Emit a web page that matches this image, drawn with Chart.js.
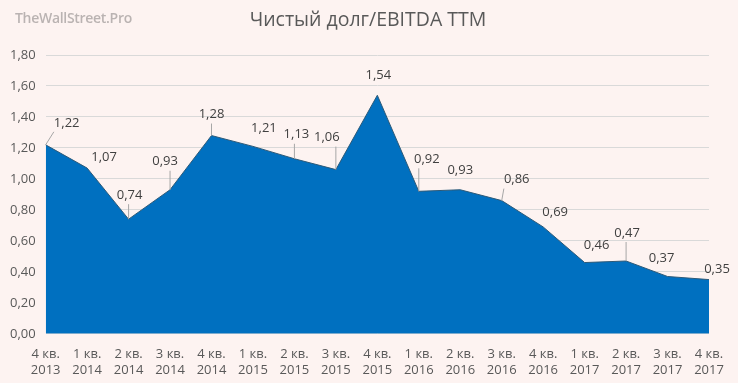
<!DOCTYPE html>
<html><head><meta charset="utf-8">
<script src="https://cdn.jsdelivr.net/npm/chart.js@4"></script>
<style>
html,body{margin:0;padding:0;background:#FDF3F1;}
#wrap{position:relative;width:738px;height:383px;}
#wm{position:absolute;left:15px;top:8px;font:600 14px "Open Sans",sans-serif;color:#BAB3B2;letter-spacing:-0.3px;}
</style></head><body>
<div id="wrap"><canvas id="c" width="738" height="383"></canvas><div id="wm">TheWallStreet.Pro</div></div>
<script>
const quarters = ['4 кв.','1 кв.','2 кв.','3 кв.','4 кв.','1 кв.','2 кв.','3 кв.','4 кв.','1 кв.','2 кв.','3 кв.','4 кв.','1 кв.','2 кв.','3 кв.','4 кв.'];
const years = ['2013','2014','2014','2014','2014','2015','2015','2015','2015','2016','2016','2016','2016','2017','2017','2017','2017'];
const ratio = [1.22,1.07,0.74,0.93,1.28,1.21,1.13,1.06,1.54,0.92,0.93,0.86,0.69,0.46,0.47,0.37,0.35];
const yTicks = [0,0.2,0.4,0.6,0.8,1.0,1.2,1.4,1.6,1.8];
const chartTitle = 'Чистый долг/EBITDA TTM';

const FONT = '"Open Sans", "Noto Sans", sans-serif';
const fmt = v => v.toFixed(2).replace('.', ',');

const titlePlugin = {
  id: 'ctitle',
  afterDraw(chart) {
    const ctx = chart.ctx;
    ctx.save();
    ctx.font = '19.5px ' + FONT;
    ctx.fillStyle = '#595959';
    ctx.textAlign = 'center';
    ctx.textBaseline = 'middle';
    ctx.fillText(chartTitle, 368, 20);
    ctx.restore();
  }
};

const labelPlugin = {
  id: 'dlabels',
  afterDatasetsDraw(chart, args, opts) {
    const ctx = chart.ctx;
    const meta = chart.getDatasetMeta(0);
    ctx.save();
    ctx.font = '13px ' + FONT;
    ctx.textAlign = 'center';
    ctx.textBaseline = 'middle';
    meta.data.forEach((pt, i) => {
      const nudge = opts.nudges[i];
      const lx = pt.x + nudge[0], ly = pt.y + nudge[1];
      const txt = fmt(ratio[i]);
      const w = ctx.measureText(txt).width;
      const bottom = ly + 8;
      const ex = Math.max(lx - w/2, Math.min(lx + w/2, pt.x));
      const dist = Math.hypot(ex - pt.x, bottom - pt.y);
      if (dist > 12) {
        ctx.strokeStyle = '#A6A6A6';
        ctx.lineWidth = 1;
        ctx.beginPath();
        ctx.moveTo(pt.x, pt.y);
        ctx.lineTo(ex, bottom + 1);
        ctx.stroke();
      }
      ctx.fillStyle = '#404040';
      ctx.fillText(txt, lx, ly);
    });
    ctx.restore();
  }
};

new Chart(document.getElementById('c'), {
  type: 'line',
  data: {
    labels: quarters.map((q, i) => [q, years[i]]),
    datasets: [{
      data: ratio,
      fill: 'origin',
      backgroundColor: '#0070C0',
      borderColor: '#2D5A78',
      borderWidth: 1,
      pointRadius: 0,
      tension: 0
    }]
  },
  options: {
    responsive: false,
    animation: false,
    layout: { padding: { left: 0, right: 29, top: 55, bottom: 0 } },
    plugins: {
      legend: { display: false },
      tooltip: { enabled: false },
      title: { display: false },
      dlabels: {
        nudges: [[21,-22],[17,-11],[1,-24],[-5,-28],[0,-21],[11,-18],[2,-24],[-9,-32],[1,-20],[8,-32],[0,-19],[15,-21],[12,-15],[12,-17],[1,-28],[-6,-18],[8,-10]]
      }
    },
    scales: {
      x: {
        offset: false,
        grid: { display: false },
        border: { display: false },
        ticks: { color: '#595959', font: { family: FONT, size: 13 }, maxRotation: 0, autoSkip: false, padding: 5 }
      },
      y: {
        min: 0, max: 1.8,
        afterBuildTicks: axis => { axis.ticks = yTicks.map(v => ({ value: v })); },
        grid: { color: '#D9D9D9', drawTicks: false },
        border: { display: false },
        ticks: { color: '#595959', font: { family: FONT, size: 13 }, padding: 10, callback: v => fmt(v) }
      }
    }
  },
  plugins: [labelPlugin, titlePlugin]
});
</script>
</body></html>
